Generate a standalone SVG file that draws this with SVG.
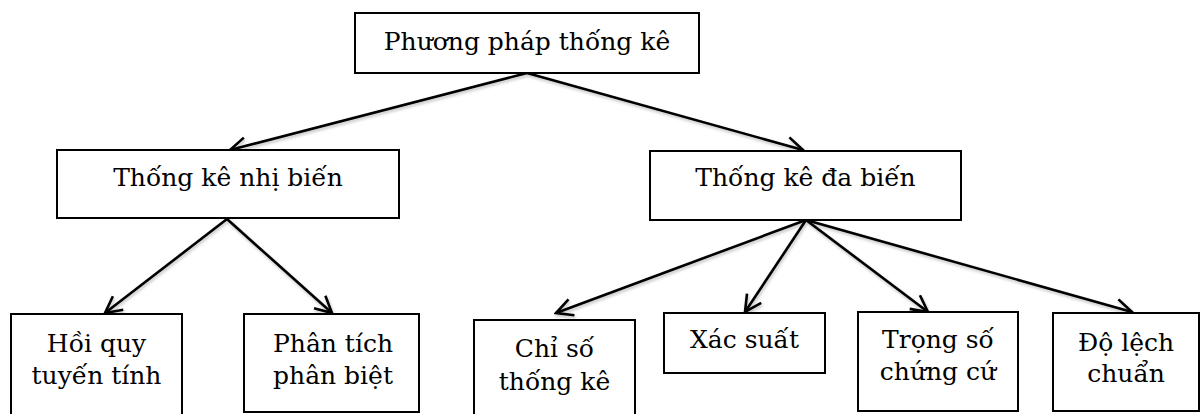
<svg xmlns="http://www.w3.org/2000/svg" width="1201" height="414" viewBox="0 0 1201 414">
  <style>
    .box { fill: #ffffff; stroke: #000000; stroke-width: 2; }
    .lbl { font-family: "DejaVu Serif", "Liberation Serif", serif; font-size: 25px; fill: #000000; text-anchor: middle; }
    .edge { fill: none; stroke: #000000; stroke-width: 2.6; marker-end: url(#arr); }
  </style>
  <defs>
    <marker id="arr" viewBox="0 0 20 20" refX="18" refY="10" markerWidth="20" markerHeight="20" markerUnits="userSpaceOnUse" orient="auto">
      <path d="M1.5,1.5 L18,10 L1.5,18.5" fill="none" stroke="#000000" stroke-width="2.6" stroke-linejoin="miter"/>
    </marker>
    <filter id="sh" x="-10%" y="-10%" width="120%" height="130%">
      <feDropShadow dx="1" dy="2" stdDeviation="1.5" flood-color="#000000" flood-opacity="0.25"/>
    </filter>
  </defs>
  <rect width="1201" height="414" fill="#ffffff"/>

  <g id="connectors" filter="url(#sh)">
    <line class="edge" x1="527" y1="73" x2="230" y2="150"/>
    <line class="edge" x1="527" y1="73" x2="803" y2="150"/>
    <line class="edge" x1="227" y1="219" x2="105" y2="313"/>
    <line class="edge" x1="227" y1="219" x2="332" y2="313"/>
    <line class="edge" x1="806" y1="220" x2="556" y2="313"/>
    <line class="edge" x1="806" y1="220" x2="745" y2="312"/>
    <line class="edge" x1="806" y1="220" x2="928" y2="312"/>
    <line class="edge" x1="806" y1="220" x2="1132" y2="312"/>
  </g>

  <g id="node-root">
    <rect class="box" x="355" y="13" width="344" height="60"/>
    <text class="lbl" x="527" y="50">Phương pháp thống kê</text>
  </g>
  <g id="node-nhi-bien">
    <rect class="box" x="57" y="150" width="342" height="68"/>
    <text class="lbl" x="228" y="186">Thống kê nhị biến</text>
  </g>
  <g id="node-da-bien">
    <rect class="box" x="650" y="151" width="311" height="69"/>
    <text class="lbl" x="805.5" y="186">Thống kê đa biến</text>
  </g>
  <g id="node-hoi-quy">
    <rect class="box" x="11" y="314" width="171" height="110"/>
    <text class="lbl" x="96.5" y="352">Hồi quy</text>
    <text class="lbl" x="96.5" y="384">tuyến tính</text>
  </g>
  <g id="node-phan-tich">
    <rect class="box" x="244" y="314" width="175" height="98"/>
    <text class="lbl" x="333" y="352">Phân tích</text>
    <text class="lbl" x="333" y="384">phân biệt</text>
  </g>
  <g id="node-chi-so">
    <rect class="box" x="474" y="320" width="161" height="104"/>
    <text class="lbl" x="554.5" y="357">Chỉ số</text>
    <text class="lbl" x="554.5" y="390">thống kê</text>
  </g>
  <g id="node-xac-suat">
    <rect class="box" x="664" y="313" width="161" height="60"/>
    <text class="lbl" x="744.5" y="348">Xác suất</text>
  </g>
  <g id="node-trong-so">
    <rect class="box" x="858" y="312" width="160" height="99"/>
    <text class="lbl" x="938" y="348">Trọng số</text>
    <text class="lbl" x="938" y="380">chứng cứ</text>
  </g>
  <g id="node-do-lech">
    <rect class="box" x="1053" y="313" width="146" height="98"/>
    <text class="lbl" x="1126" y="351">Độ lệch</text>
    <text class="lbl" x="1126" y="382">chuẩn</text>
  </g>
</svg>
